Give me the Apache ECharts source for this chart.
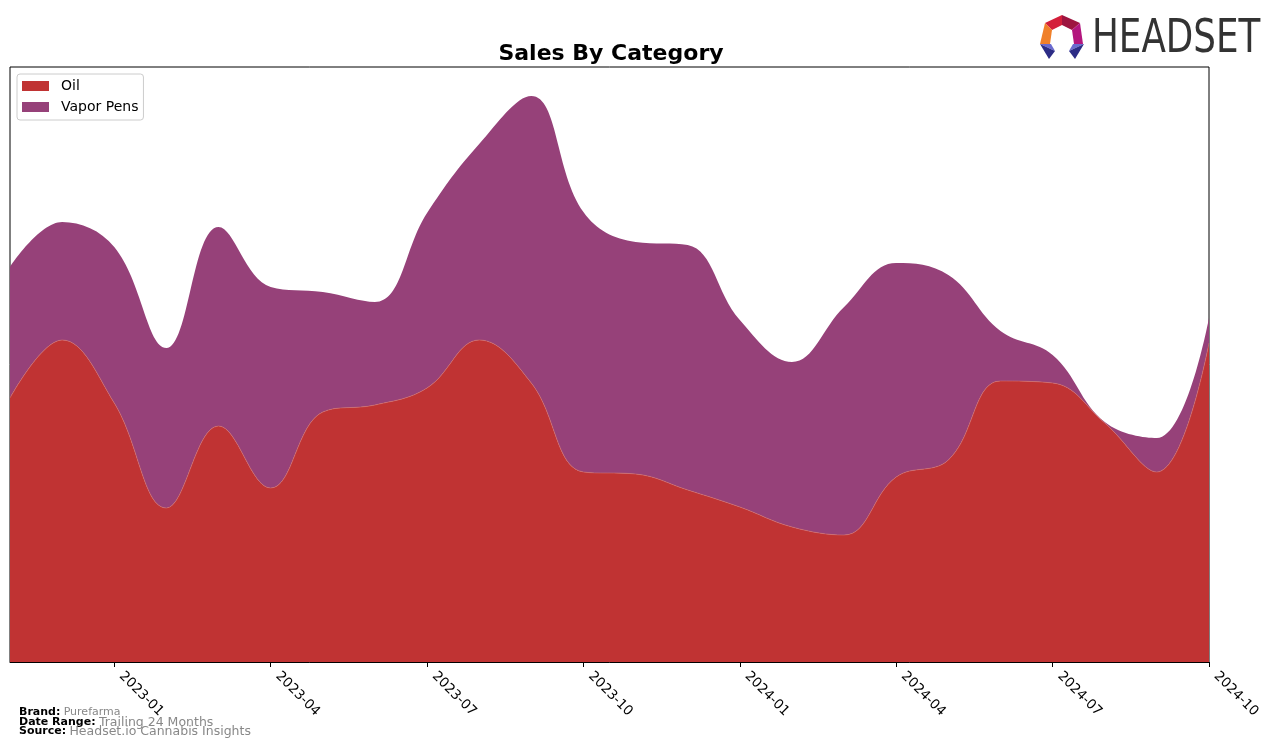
<!DOCTYPE html>
<html>
<head>
<meta charset="utf-8">
<script src="https://cdn.jsdelivr.net/npm/echarts@6/dist/echarts.min.js"></script>
<style>
html,body{margin:0;padding:0;background:#fff;}
#chart{width:1276px;height:748px;}
</style>
</head>
<body>
<div id="chart"></div>
<script>
const months = ["2022-11","2022-12","2023-01","2023-02","2023-03","2023-04","2023-05","2023-06","2023-07","2023-08","2023-09","2023-10","2023-11","2023-12","2024-01","2024-02","2024-03","2024-04","2024-05","2024-06","2024-07","2024-08","2024-09","2024-10"];
const oilSales = [264,322,259,154,236,174,250,257,274,322,279,190,188,172,155,135,127,185,202,281,279,239,190,319];
const vaporPensSales = [131,118,156,160,199,201,120,103,175,196,287,260,232,245,187,165,228,214,185,50,28,1,34,25];
const seriesNames = ["Oil","Vapor Pens"];
const seriesColors = ["#c03333","#964179"];

const chart = echarts.init(document.getElementById('chart'));
const FONT = "DejaVu Sans";
const option = {
  animation: false,
  backgroundColor: '#ffffff',
  title: {
    text: 'Sales By Category',
    left: 606, top: 38, textAlign: 'center',
    textStyle: {fontFamily: FONT, fontWeight: 'bold', fontSize: 22, color: '#000'}
  },
  legend: {
    orient: 'vertical', left: 17, top: 74,
    data: seriesNames,
    icon: 'rect', itemWidth: 27, itemHeight: 10, itemGap: 7,
    padding: [5, 5, 6, 5],
    borderColor: '#cccccc', borderWidth: 1, borderRadius: 3,
    backgroundColor: '#fff',
    textStyle: {fontFamily: FONT, fontSize: 14, color: '#000', padding: [0, 0, 0, 7]}
  },
  grid: {
    left: 10, right: 67, top: 67, bottom: 86,
    show: true, borderColor: '#000', borderWidth: 1, backgroundColor: 'transparent'
  },
  xAxis: {
    type: 'category', data: months, boundaryGap: false,
    axisLine: {show: true, lineStyle: {color: '#000', width: 1}},
    axisTick: {show: true, length: 5, lineStyle: {color: '#000'}, interval: (i) => i % 3 === 2},
    axisLabel: {
      interval: (i) => i % 3 === 2, rotate: -45, margin: 5,
      padding: [0, 0, 0, 10],
      fontFamily: FONT, fontSize: 13.5, color: '#000'
    },
    splitLine: {show: false}
  },
  yAxis: {
    type: 'value', min: 0, max: 595, show: false, splitLine: {show: false}
  },
  series: [
    {name: seriesNames[0], type: 'line', stack: 'total', smooth: 0.4, symbol: 'none',
     data: oilSales, color: seriesColors[0],
     lineStyle: {width: 0.6, color: '#d07070'}, areaStyle: {color: seriesColors[0], opacity: 1}, z: 3},
    {name: seriesNames[1], type: 'line', stack: 'total', smooth: 0.4, symbol: 'none',
     data: vaporPensSales, color: seriesColors[1],
     lineStyle: {width: 0}, areaStyle: {color: seriesColors[1], opacity: 1}, z: 2}
  ],
  graphic: [
    {type: 'text', left: 19, top: 706, style: {
      text: '{b|Brand:} {g|Purefarma}',
      rich: {b: {fontFamily: FONT, fontWeight: 'bold', fontSize: 11, fill: '#000'},
             g: {fontFamily: FONT, fontSize: 11, fill: '#888'}}}},
    {type: 'text', left: 19, top: 716, style: {
      text: '{b|Date Range:} {g|Trailing 24 Months}',
      rich: {b: {fontFamily: FONT, fontWeight: 'bold', fontSize: 11, fill: '#000'},
             g: {fontFamily: FONT, fontSize: 12.5, fill: '#888'}}}},
    {type: 'text', left: 19, top: 725, style: {
      text: '{b|Source:} {g|Headset.io Cannabis Insights}',
      rich: {b: {fontFamily: FONT, fontWeight: 'bold', fontSize: 11, fill: '#000'},
             g: {fontFamily: FONT, fontSize: 12.5, fill: '#888'}}}},
    {type: 'polygon', shape: {points: [[1045,23],[1062,15],[1062,25],[1052,30]]}, style: {fill: '#d41f3a'}},
    {type: 'polygon', shape: {points: [[1062,15],[1080,23],[1072,30],[1062,25]]}, style: {fill: '#9e1540'}},
    {type: 'polygon', shape: {points: [[1080,23],[1083,44],[1074,44],[1072,30]]}, style: {fill: '#b3167e'}},
    {type: 'polygon', shape: {points: [[1045,23],[1052,30],[1050,44],[1040,44]]}, style: {fill: '#f0802a'}},
    {type: 'polygon', shape: {points: [[1040,44],[1051,44],[1055,51]]}, style: {fill: '#6a6ad0'}},
    {type: 'polygon', shape: {points: [[1040,44],[1055,51],[1049,59]]}, style: {fill: '#2c2c86'}},
    {type: 'polygon', shape: {points: [[1084,44],[1073,44],[1069,51]]}, style: {fill: '#6a6ad0'}},
    {type: 'polygon', shape: {points: [[1084,44],[1069,51],[1075,59]]}, style: {fill: '#2c2c86'}},
    {type: 'text', x: 1092, y: 16, scaleX: 0.76, style: {
      text: 'HEADSET', fontFamily: 'DejaVu Sans', fontSize: 47, fill: '#333333'}}
  ]
};
chart.setOption(option);
</script>
</body>
</html>
